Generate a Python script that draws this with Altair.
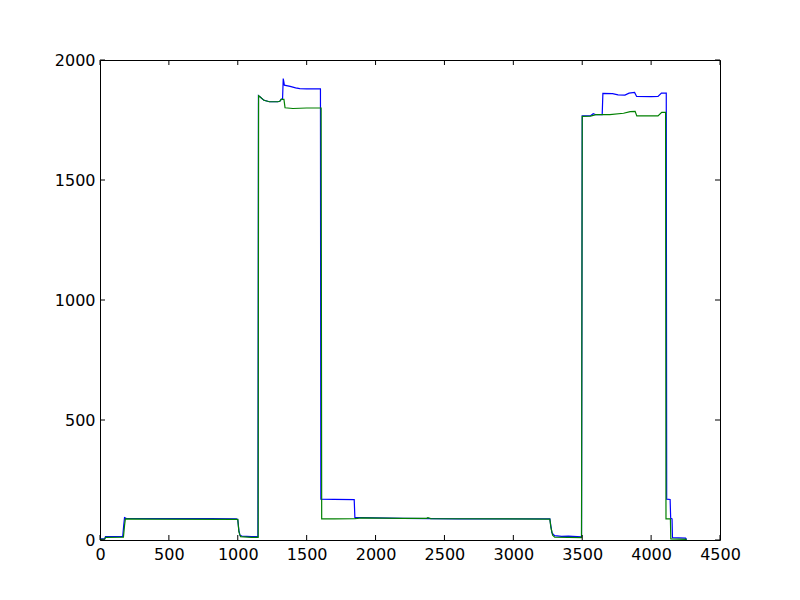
import altair as alt
import pandas as pd

blue_x = [0, 35, 40, 165, 172, 178, 190, 400, 600, 800, 990, 1000, 1008, 1015, 1030, 1100, 1146,
          1150, 1165, 1190, 1230, 1290, 1305, 1315, 1325, 1330, 1334, 1338, 1380, 1420, 1450,
          1500, 1600, 1603, 1700, 1845, 1850, 1900, 2000, 2200, 2400, 2600, 3000, 3265, 3272, 3280,
          3300, 3350, 3400, 3495, 3500, 3560, 3580, 3600, 3645, 3650, 3720, 3760, 3810, 3840, 3880,
          3895, 4000, 4050, 4075, 4110, 4113, 4138, 4142, 4152, 4155, 4200, 4250, 4258]
blue_y = [5, 6, 14, 15, 60, 93, 90, 89, 89, 89, 88, 85, 40, 20, 16, 14, 14,
          1851, 1845, 1832, 1826, 1826, 1828, 1836, 1838, 1923, 1910, 1895, 1890, 1884, 1881,
          1880, 1880, 170, 169, 168, 94, 93, 92, 90, 89, 88, 88, 88, 60, 30,
          18, 15, 16, 13, 1767, 1768, 1776, 1772, 1772, 1861, 1860, 1855, 1854, 1862, 1865,
          1848, 1847, 1848, 1862, 1862, 170, 169, 90, 88, 10, 9, 8, 2]

green_x = [0, 35, 40, 170, 178, 184, 400, 1000, 1008, 1020, 1100, 1148, 1151, 1165, 1190, 1230,
           1290, 1305, 1315, 1335, 1343, 1400, 1500, 1605, 1609, 1700, 1850, 1900, 2200, 2370,
           2380, 2400, 3265, 3272, 3285, 3300, 3495, 3500, 3560, 3600, 3700, 3800, 3848, 3884,
           3896, 4050, 4077, 4105, 4108, 4140, 4143, 4258]
green_y = [3, 4, 11, 12, 60, 88, 87, 86, 35, 14, 11, 11, 1851, 1845, 1832, 1826,
           1826, 1828, 1836, 1836, 1801, 1798, 1800, 1800, 88, 88, 89, 92, 90, 90,
           93, 89, 87, 55, 20, 12, 10, 1765, 1766, 1772, 1772, 1778, 1785, 1786,
           1767, 1767, 1782, 1782, 88, 88, 5, 3]

x_ticks = [0, 500, 1000, 1500, 2000, 2500, 3000, 3500, 4000, 4500]
y_ticks = [0, 500, 1000, 1500, 2000]

blue_df = pd.DataFrame({"x": blue_x, "y": blue_y, "i": range(len(blue_x))})
green_df = pd.DataFrame({"x": green_x, "y": green_y, "i": range(len(green_x))})
xt_df = pd.DataFrame({"t": x_ticks})
yt_df = pd.DataFrame({"t": y_ticks})

W, H = 620, 480
xscale = alt.Scale(domain=[0, 4500], nice=False, zero=False)
yscale = alt.Scale(domain=[0, 2000], nice=False, zero=False)

axis_common = dict(ticks=False, domain=False, grid=False, labelFontSize=16,
                   labelFont="DejaVu Sans", labelColor="black",
                   labelFlush=False, labelOverlap=False, format="d", title=None)
xaxis = alt.Axis(values=x_ticks, labelPadding=6, **axis_common)
yaxis = alt.Axis(values=y_ticks, labelPadding=5, **axis_common)

blue = alt.Chart(blue_df).mark_line(color="#0000ff", strokeWidth=1.2).encode(
    x=alt.X("x:Q", scale=xscale, axis=xaxis),
    y=alt.Y("y:Q", scale=yscale, axis=yaxis),
    order="i:Q",
)
green = alt.Chart(green_df).mark_line(color="#008000", strokeWidth=1.2).encode(
    x=alt.X("x:Q", scale=xscale, axis=xaxis),
    y=alt.Y("y:Q", scale=yscale, axis=yaxis),
    order="i:Q",
)

TL = 5
tick_b = alt.Chart(xt_df).mark_rule(color="black", strokeWidth=1).encode(
    x=alt.X("t:Q", scale=xscale, axis=xaxis), y=alt.value(H), y2=alt.value(H - TL))
tick_t = alt.Chart(xt_df).mark_rule(color="black", strokeWidth=1).encode(
    x=alt.X("t:Q", scale=xscale, axis=xaxis), y=alt.value(0), y2=alt.value(TL))
tick_l = alt.Chart(yt_df).mark_rule(color="black", strokeWidth=1).encode(
    y=alt.Y("t:Q", scale=yscale, axis=yaxis), x=alt.value(0), x2=alt.value(TL))
tick_r = alt.Chart(yt_df).mark_rule(color="black", strokeWidth=1).encode(
    y=alt.Y("t:Q", scale=yscale, axis=yaxis), x=alt.value(W), x2=alt.value(W - TL))

chart = alt.layer(blue, green, tick_b, tick_t, tick_l, tick_r).properties(
    width=W, height=H,
    autosize=alt.AutoSizeParams(type="none"),
    padding={"left": 92, "top": 52, "right": 72, "bottom": 52},
    background="white",
).configure_view(stroke="black", strokeWidth=1)

chart.save("out.html", embed_options={"renderer": "svg", "actions": False})
